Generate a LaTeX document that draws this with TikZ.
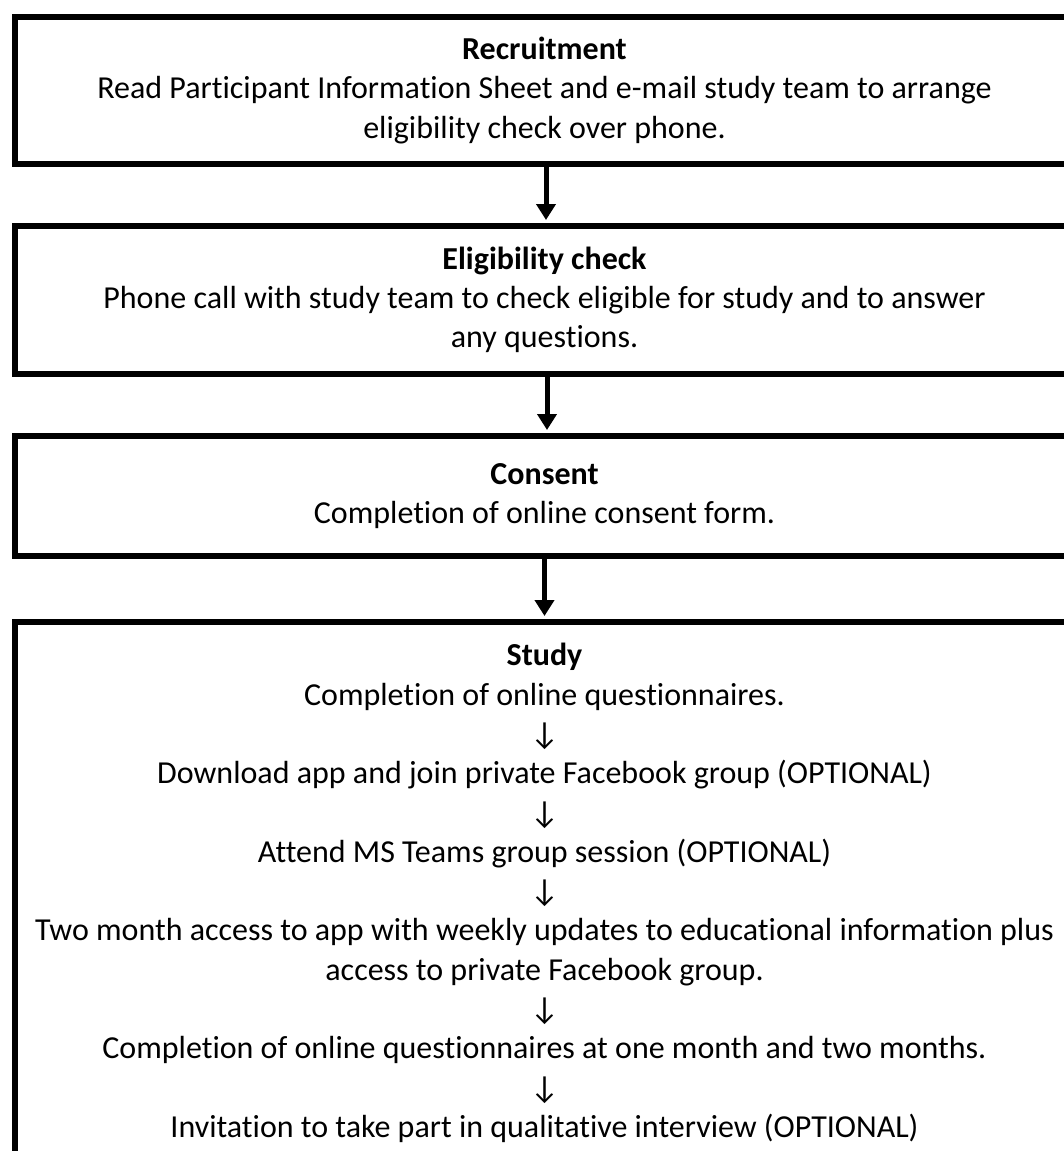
\documentclass[tikz,border=0pt]{standalone}
\usepackage{fontspec}
\setmainfont{Carlito}[Ligatures=NoCommon]
\newfontfamily\arrowfont{Carlito}
\usetikzlibrary{arrows.meta}
\newcommand{\dnarrow}{{\arrowfont\fontsize{32}{39.3}\selectfont ↓}}
\begin{document}
\begin{tikzpicture}[x=1pt,y=-1pt,
  stagebox/.style={draw, line width=6pt, minimum width=1060pt, inner sep=0pt,
    align=center, anchor=north west, font=\fontsize{32}{39.3}\selectfont},
  flowarrow/.style={line width=5pt, shorten >=3pt, -{Triangle[width=19pt,length=16pt]}}]
\useasboundingbox (0,0) rectangle (1064,1151);
\clip (0,0) rectangle (1064,1151);
\fill[white] (0,0) rectangle (1064,1151);
\node[stagebox, minimum height=146.5pt] (rec) at (11.5,14)
  {\textbf{Recruitment}\\Read Participant Information Sheet and e-mail study team to arrange\\eligibility check over phone.};
\node[stagebox, minimum height=148pt] (elig) at (11.5,223)
  {\textbf{Eligibility check}\\Phone call with study team to check eligible for study and to answer\\any questions.};
\node[stagebox, minimum height=120pt] (cons) at (11.5,433)
  {\textbf{Consent}\\Completion of online consent form.};
\node[stagebox, minimum height=542pt] (study) at (11.5,619)
  {\textbf{Study}\\Completion of online questionnaires.\\\dnarrow\\
   Download app and join private Facebook group (OPTIONAL)\\\dnarrow\\
   Attend MS Teams group session (OPTIONAL)\\\dnarrow\\
   Two month access to app with weekly updates to educational information plus\\access to private Facebook group.\\\dnarrow\\
   Completion of online questionnaires at one month and two months.\\\dnarrow\\
   Invitation to take part in qualitative interview (OPTIONAL)};
\draw[flowarrow] ([xshift=1.5pt]rec.south) -- ([xshift=1.5pt]elig.north);
\draw[flowarrow] ([xshift=2.5pt]elig.south) -- ([xshift=2.5pt]cons.north);
\draw[flowarrow] (cons.south) -- (study.north);
\end{tikzpicture}
\end{document}
